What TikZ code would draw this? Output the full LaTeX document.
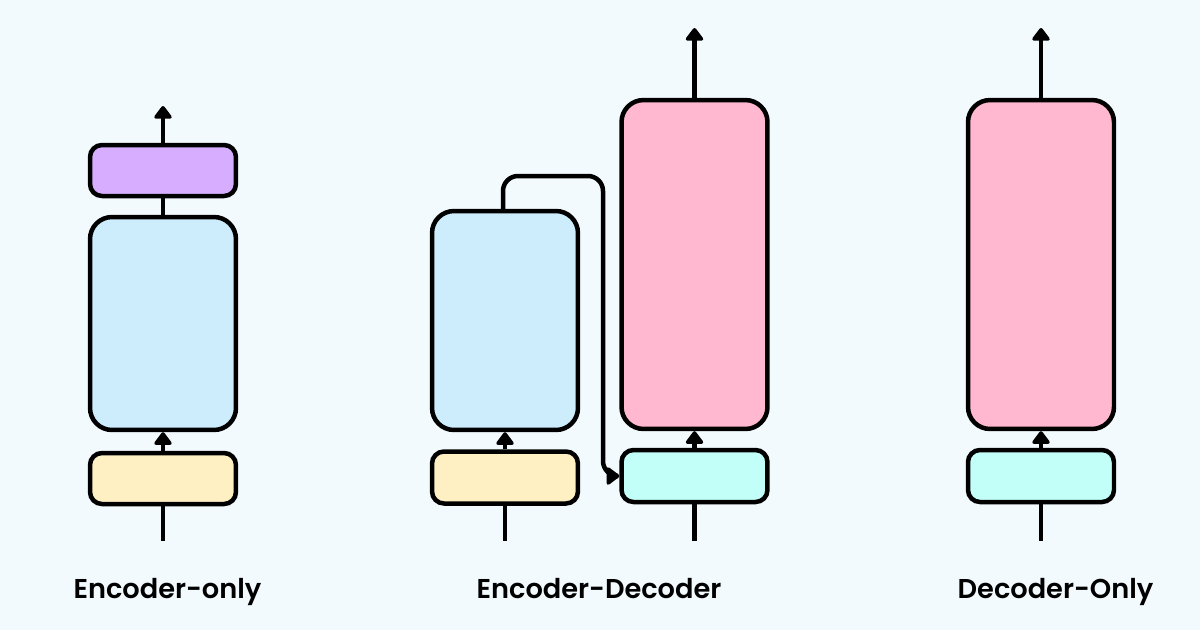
\documentclass[tikz,border=0pt]{standalone}
\usepackage{fontspec}
\setmainfont{Poppins}[BoldFont={Poppins SemiBold}]
\usetikzlibrary{arrows.meta}

\definecolor{bgcol}{HTML}{F3FAFE}
\definecolor{purplecol}{HTML}{D7AEFF}
\definecolor{bluecol}{HTML}{CDEDFD}
\definecolor{yellowcol}{HTML}{FFF0C4}
\definecolor{pinkcol}{HTML}{FFB8CF}
\definecolor{cyancol}{HTML}{C2FFF9}

\begin{document}
\begin{tikzpicture}[x=0.02cm, y=-0.02cm,
    blockbox/.style={draw, line width=0.09cm, rounded corners=0.24cm, minimum width=2.92cm, inner sep=0pt},
    bigbox/.style={blockbox, rounded corners=0.44cm},
    arr/.style={line width=0.09cm, -{Triangle[width=0.4cm, length=0.28cm, round]}},
    wire/.style={line width=0.09cm},
    caption/.style={anchor=base, inner sep=0pt, font=\bfseries\fontsize{15.5}{18}\selectfont}]
    \fill[bgcol] (0,0) rectangle (1200,630);
    \useasboundingbox (0,0) rectangle (1200,630);

    % encoder-only
    \node[blockbox, fill=purplecol, minimum height=1.02cm] (eohead) at (163,170.5) {};
    \node[bigbox, fill=bluecol, minimum height=4.26cm] (eoenc) at (163,323.5) {};
    \node[blockbox, fill=yellowcol, minimum height=1.02cm] (eoemb) at (163,478.5) {};
    \coordinate (eoin) at (163,541);
    \coordinate (eoout) at (163,106);

    % encoder-decoder
    \node[bigbox, fill=bluecol, minimum height=4.38cm] (edenc) at (505,320.5) {};
    \node[blockbox, fill=yellowcol, minimum height=1.04cm] (edemb) at (505,477.5) {};
    \node[bigbox, fill=pinkcol, minimum height=6.58cm] (eddec) at (694.5,264.5) {};
    \node[blockbox, fill=cyancol, minimum height=1.04cm] (eddemb) at (694.5,476) {};
    \coordinate (edin1) at (505,541);
    \coordinate (edin2) at (694.5,541);
    \coordinate (edout) at (694.5,28);
    \coordinate (edskip) at (603,176);

    % decoder-only
    \node[bigbox, fill=pinkcol, minimum height=6.58cm] (dodec) at (1041,264.5) {};
    \node[blockbox, fill=cyancol, minimum height=1.04cm] (doemb) at (1041,476) {};
    \coordinate (doin) at (1041,541);
    \coordinate (doout) at (1041,28);

    \draw[wire] (eoin) -- (eoemb);
    \draw[arr] (eoemb) -- (eoenc);
    \draw[wire] (eoenc) -- (eohead);
    \draw[arr] (eohead) -- (eoout);

    \draw[wire] (edin1) -- (edemb);
    \draw[arr] (edemb) -- (edenc);
    \draw[wire] (edin2) -- (eddemb);
    \draw[arr] (eddemb) -- (eddec);
    \draw[arr] (eddec) -- (edout);
    \draw[arr, rounded corners=0.3cm] ([xshift=-0.04cm]edenc.north) |- (edskip) |- (eddemb.west);

    \draw[wire] (doin) -- (doemb);
    \draw[arr] (doemb) -- (dodec);
    \draw[arr] (dodec) -- (doout);

    \node[caption] (eolabel) at (167.5,598) {Encoder-only};
    \node[caption] (edlabel) at (599,598) {Encoder-Decoder};
    \node[caption] (dolabel) at (1055.5,598) {Decoder-Only};
\end{tikzpicture}
\end{document}
